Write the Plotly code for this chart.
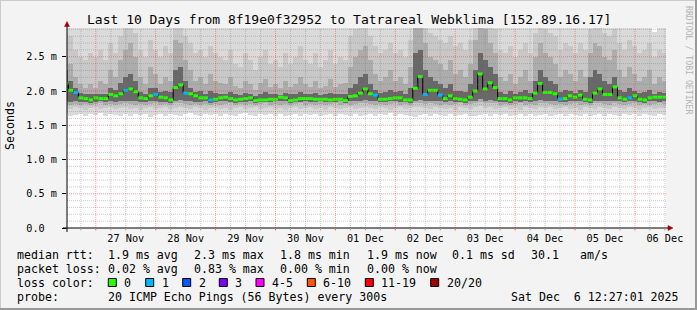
import plotly.graph_objects as go
import pandas as pd

# ---------------- data ----------------
sample_start = "2025-11-26 12:00"      # first consolidated sample
sample_step = "2h"

median_rtt = [
    2.11, 2.01, 1.98, 1.90, 1.89, 1.87, 1.90, 1.89, 1.89, 1.95,
    1.93, 1.96, 2.01, 2.03, 1.99, 1.90, 1.89, 1.93, 1.95, 1.91,
    1.90, 1.87, 2.05, 2.09, 1.97, 1.96, 1.93, 1.90, 1.90, 1.87,
    1.88, 1.90, 1.91, 1.89, 1.87, 1.88, 1.89, 1.90, 1.86, 1.87,
    1.87, 1.88, 1.88, 1.91, 1.90, 1.86, 1.87, 1.89, 1.89, 1.89,
    1.88, 1.88, 1.88, 1.87, 1.88, 1.88, 1.86, 1.92, 1.93, 1.97,
    2.03, 1.96, 1.94, 1.88, 1.88, 1.89, 1.90, 1.90, 1.87, 1.87,
    2.04, 2.21, 1.95, 2.01, 2.01, 1.94, 1.89, 1.93, 1.89, 1.88,
    1.87, 1.91, 2.00, 2.25, 2.03, 2.12, 2.05, 1.89, 1.89, 1.87,
    1.90, 1.90, 1.90, 1.89, 1.97, 2.11, 1.98, 1.98, 1.96, 1.88,
    1.89, 1.93, 1.91, 1.94, 1.88, 1.87, 1.97, 2.03, 1.95, 1.95,
    2.06, 1.90, 1.88, 1.90, 1.93, 1.88, 1.87, 1.90, 1.91, 1.91,
    1.91]

# samples (index) where 1 of 20 pings was lost, all others 0
loss_one_samples = [2, 12, 18, 24, 29, 62, 72, 75, 99, 113]

ping_max = [
    3.30, 3.25, 3.10, 3.05, 3.00, 3.15, 3.05, 3.10, 3.00, 3.20,
    3.05, 3.25, 3.40, 3.45, 3.30, 3.10, 3.00, 3.15, 3.05, 3.00,
    3.10, 3.05, 3.45, 3.50, 3.25, 3.15, 3.00, 3.10, 3.00, 3.05,
    3.00, 3.00, 3.10, 2.98, 3.00, 3.05, 3.00, 2.97, 3.00, 3.10,
    3.00, 2.98, 3.00, 3.05, 3.00, 3.00, 3.10, 3.00, 2.98, 3.05,
    3.00, 2.98, 3.05, 3.00, 3.00, 3.00, 2.98, 3.20, 3.35, 3.40,
    3.45, 3.20, 3.10, 3.00, 3.05, 3.10, 3.00, 3.05, 3.00, 3.15,
    3.60, 3.70, 3.40, 3.30, 3.20, 3.15, 3.05, 3.20, 3.05, 3.10,
    3.00, 3.15, 3.45, 3.75, 3.50, 3.40, 3.30, 3.05, 3.00, 3.10,
    3.00, 3.05, 3.10, 3.00, 3.30, 3.45, 3.35, 3.25, 3.20, 3.00,
    3.10, 3.05, 3.00, 3.10, 3.05, 3.35, 3.45, 3.40, 3.25, 3.15,
    3.30, 3.10, 3.00, 3.15, 3.05, 3.00, 3.00, 3.10, 2.86, 3.00,
    3.00]

ping_p90 = [
    2.85, 2.80, 2.60, 2.50, 2.45, 2.55, 2.50,
    2.60, 2.45, 2.70, 2.55,
    2.80, 2.92, 2.95, 2.85,
    2.60, 2.50, 2.75, 2.60, 2.50, 2.65, 2.55,
    2.95, 2.95, 2.80,
    2.70, 2.55, 2.60, 2.50, 2.65, 2.55,
    2.50, 2.45, 2.60, 2.40, 2.35, 2.55, 2.45, 2.30, 2.50, 2.60, 2.40, 2.45, 2.35,
    2.55, 2.40, 2.50, 2.65, 2.45, 2.40, 2.55, 2.35, 2.45, 2.60, 2.40, 2.50, 2.45,
    2.80, 2.90, 2.95, 2.95, 2.80,
    2.65, 2.55, 2.60, 2.70, 2.55, 2.60, 2.50, 2.75,
    3.00, 3.00, 2.95,
    2.85, 2.80, 2.75, 2.70, 2.80, 2.65, 2.70, 2.60, 2.75,
    2.95, 3.00, 3.00, 2.95, 2.90,
    2.60, 2.55, 2.65, 2.50, 2.60, 2.70, 2.55,
    2.85, 2.95, 2.90, 2.85, 2.80,
    2.60, 2.70, 2.65, 2.55, 2.70, 2.60,
    2.90, 2.95, 2.95, 2.85, 2.80, 2.90,
    2.70, 2.60, 2.75, 2.65, 2.55, 2.60, 2.70, 2.50, 2.60, 2.55]

ping_p75 = [
    2.50, 2.40, 2.20, 2.10, 2.05, 2.10, 2.05,
    2.15, 2.10, 2.30, 2.20,
    2.45, 2.60, 2.70, 2.50,
    2.20, 2.10, 2.35, 2.25, 2.10, 2.20, 2.15,
    2.75, 2.70, 2.45,
    2.30, 2.15, 2.20, 2.10, 2.25, 2.15,
    2.12, 2.10, 2.20, 2.08, 2.05, 2.15, 2.10, 2.02, 2.12, 2.18, 2.06, 2.10, 2.04,
    2.14, 2.06, 2.10, 2.20, 2.10, 2.06, 2.14, 2.04, 2.08, 2.18, 2.06, 2.10, 2.12,
    2.35, 2.50, 2.60, 2.65, 2.45,
    2.25, 2.15, 2.20, 2.30, 2.15, 2.20, 2.10, 2.35,
    2.95, 2.95, 2.70,
    2.50, 2.45, 2.40, 2.30, 2.45, 2.25, 2.30, 2.20, 2.40,
    2.75, 2.95, 2.90, 2.70, 2.55,
    2.20, 2.15, 2.25, 2.10, 2.20, 2.30, 2.15,
    2.50, 2.70, 2.55, 2.50, 2.40,
    2.20, 2.30, 2.25, 2.15, 2.30, 2.20,
    2.55, 2.70, 2.65, 2.50, 2.45, 2.60,
    2.30, 2.20, 2.35, 2.25, 2.15, 2.20, 2.30, 2.10, 2.20, 2.15]

ping_p60 = [
    2.30, 2.15, 2.05, 1.97, 1.95, 1.95, 1.96,
    1.96, 1.95, 2.05, 2.02,
    2.12, 2.20, 2.25, 2.15,
    1.98, 1.96, 2.05, 2.05, 1.98, 2.00, 1.98,
    2.30, 2.35, 2.15,
    2.05, 1.98, 2.00, 1.96, 2.00, 1.97,
    1.96, 1.96, 1.98, 1.95, 1.94, 1.97, 1.96, 1.93, 1.96, 1.98, 1.95, 1.96, 1.94,
    1.97, 1.95, 1.95, 1.98, 1.96, 1.95, 1.97, 1.94, 1.95, 1.97, 1.95, 1.96, 1.95,
    2.05, 2.10, 2.20, 2.25, 2.10,
    2.02, 1.97, 1.98, 2.02, 1.98, 2.00, 1.96, 2.05,
    2.55, 2.60, 2.30,
    2.20, 2.15, 2.10, 2.05, 2.10, 2.00, 2.00, 1.98, 2.10,
    2.30, 2.55, 2.45, 2.35, 2.25,
    1.98, 1.96, 2.00, 1.96, 1.98, 2.02, 1.97,
    2.15, 2.30, 2.20, 2.15, 2.10,
    1.98, 2.02, 2.00, 1.97, 2.02, 1.98,
    2.20, 2.30, 2.25, 2.15, 2.10, 2.20,
    2.02, 1.98, 2.05, 2.00, 1.97, 1.98, 2.02, 1.96, 1.98, 1.97]

ping_p40 = [
    1.85, 1.84, 1.85, 1.84, 1.84, 1.83, 1.84, 1.85, 1.84, 1.85,
    1.84, 1.85, 1.86, 1.86, 1.85, 1.84, 1.84, 1.85, 1.85, 1.84,
    1.84, 1.83, 1.86, 1.87, 1.85, 1.85, 1.84, 1.84, 1.85, 1.83,
    1.84, 1.85, 1.85, 1.84, 1.83, 1.84, 1.84, 1.85, 1.83, 1.84,
    1.84, 1.84, 1.85, 1.85, 1.85, 1.83, 1.84, 1.84, 1.85, 1.84,
    1.84, 1.85, 1.84, 1.84, 1.84, 1.85, 1.83, 1.85, 1.85, 1.86,
    1.87, 1.85, 1.85, 1.84, 1.84, 1.85, 1.85, 1.84, 1.84, 1.83,
    1.86, 1.87, 1.85, 1.86, 1.86, 1.85, 1.84, 1.85, 1.84, 1.84,
    1.83, 1.85, 1.86, 1.88, 1.86, 1.87, 1.86, 1.84, 1.84, 1.83,
    1.85, 1.84, 1.85, 1.84, 1.85, 1.87, 1.86, 1.85, 1.85, 1.84,
    1.84, 1.85, 1.85, 1.85, 1.84, 1.83, 1.85, 1.86, 1.85, 1.85,
    1.86, 1.85, 1.84, 1.85, 1.85, 1.84, 1.83, 1.85, 1.85, 1.84,
    1.85]

ping_p25 = [
    1.81, 1.80, 1.81, 1.80, 1.81, 1.80, 1.81, 1.82, 1.80, 1.81,
    1.80, 1.81, 1.82, 1.81, 1.80, 1.81, 1.80, 1.81, 1.82, 1.80,
    1.81, 1.80, 1.82, 1.83, 1.81, 1.80, 1.81, 1.80, 1.81, 1.80,
    1.81, 1.80, 1.81, 1.82, 1.80, 1.81, 1.80, 1.81, 1.80, 1.81,
    1.82, 1.80, 1.81, 1.80, 1.81, 1.80, 1.81, 1.82, 1.80, 1.81,
    1.80, 1.81, 1.80, 1.81, 1.82, 1.80, 1.81, 1.80, 1.81, 1.82,
    1.83, 1.81, 1.80, 1.81, 1.80, 1.81, 1.82, 1.80, 1.81, 1.80,
    1.82, 1.83, 1.81, 1.82, 1.81, 1.80, 1.81, 1.80, 1.81, 1.82,
    1.80, 1.81, 1.82, 1.84, 1.82, 1.83, 1.82, 1.80, 1.81, 1.80,
    1.81, 1.82, 1.80, 1.81, 1.80, 1.83, 1.82, 1.81, 1.80, 1.81,
    1.80, 1.81, 1.82, 1.80, 1.81, 1.80, 1.82, 1.83, 1.81, 1.80,
    1.82, 1.81, 1.80, 1.81, 1.82, 1.80, 1.81, 1.80, 1.81, 1.82,
    1.81]

ping_p10 = [
    1.75, 1.74, 1.76, 1.75, 1.73, 1.75, 1.76, 1.74, 1.75, 1.77,
    1.74, 1.75, 1.76, 1.74, 1.75, 1.73, 1.75, 1.76, 1.74, 1.75,
    1.76, 1.74, 1.75, 1.77, 1.75, 1.74, 1.76, 1.75, 1.73, 1.75,
    1.76, 1.74, 1.75, 1.73, 1.75, 1.76, 1.74, 1.75, 1.77, 1.74,
    1.75, 1.76, 1.74, 1.75, 1.73, 1.75, 1.76, 1.74, 1.75, 1.76,
    1.74, 1.75, 1.73, 1.76, 1.75, 1.74, 1.75, 1.76, 1.74, 1.75,
    1.77, 1.75, 1.74, 1.76, 1.75, 1.73, 1.75, 1.76, 1.74, 1.75,
    1.76, 1.77, 1.75, 1.74, 1.76, 1.75, 1.74, 1.75, 1.73, 1.76,
    1.75, 1.74, 1.76, 1.78, 1.75, 1.76, 1.74, 1.75, 1.76, 1.74,
    1.75, 1.73, 1.76, 1.75, 1.74, 1.77, 1.75, 1.76, 1.74, 1.75,
    1.76, 1.74, 1.75, 1.73, 1.76, 1.75, 1.74, 1.77, 1.75, 1.74,
    1.76, 1.75, 1.74, 1.76, 1.75, 1.73, 1.75, 1.76, 1.74, 1.75,
    1.75]

ping_min = [
    1.66, 1.64, 1.65, 1.67, 1.63, 1.66, 1.65, 1.68, 1.64, 1.66,
    1.65, 1.63, 1.66, 1.64, 1.67, 1.65, 1.66, 1.62, 1.65, 1.67,
    1.64, 1.66, 1.65, 1.63, 1.66, 1.68, 1.65, 1.64, 1.66, 1.65,
    1.67, 1.64, 1.66, 1.65, 1.63, 1.66, 1.68, 1.65, 1.64, 1.66,
    1.65, 1.67, 1.64, 1.66, 1.63, 1.65, 1.66, 1.64, 1.67, 1.65,
    1.66, 1.63, 1.65, 1.67, 1.64, 1.66, 1.65, 1.64, 1.66, 1.63,
    1.65, 1.67, 1.64, 1.66, 1.65, 1.68, 1.64, 1.66, 1.65, 1.63,
    1.62, 1.65, 1.66, 1.64, 1.67, 1.65, 1.63, 1.66, 1.64, 1.65,
    1.67, 1.64, 1.63, 1.65, 1.66, 1.64, 1.67, 1.65, 1.66, 1.64,
    1.65, 1.67, 1.64, 1.66, 1.63, 1.65, 1.66, 1.64, 1.65, 1.67,
    1.64, 1.66, 1.65, 1.63, 1.66, 1.64, 1.65, 1.67, 1.64, 1.66,
    1.65, 1.64, 1.66, 1.65, 1.67, 1.64, 1.66, 1.65, 1.64, 1.66,
    1.65]

y_tick_vals = [0.0, 0.5, 1.0, 1.5, 2.0, 2.5]
y_tick_text = ["0.0\u00a0\u00a0", "0.5 m", "1.0 m", "1.5 m", "2.0 m", "2.5 m"]
day_dates = ["2025-11-27", "2025-11-28", "2025-11-29", "2025-11-30", "2025-12-01",
             "2025-12-02", "2025-12-03", "2025-12-04", "2025-12-05", "2025-12-06"]
day_labels = ["27 Nov", "28 Nov", "29 Nov", "30 Nov", "01 Dec",
              "02 Dec", "03 Dec", "04 Dec", "05 Dec", "06 Dec"]

loss_labels = ["0", "1", "2", "3", "4-5", "6-10", "11-19", "20/20"]
loss_colors = ["#26ff00", "#00b8ff", "#0059ff", "#7e00ff", "#ff00ff", "#ff5500", "#ff0000", "#a10000"]

title = "Last 10 Days from 8f19e0f32952 to Tatrareal Webklima [152.89.16.17]"
rtt_stats = ["1.9 ms avg", "2.3 ms max", "1.8 ms min", "1.9 ms now", "0.1 ms sd", "30.1", "am/s"]
loss_stats = ["0.02 % avg", "0.83 % max", "0.00 % min", "0.00 % now"]
probe_text = "20 ICMP Echo Pings (56 Bytes) every 300s"
stamp_text = "Sat Dec\u00a0\u00a06 12:27:01 2025"

range_start = "2025-11-26 12:27:01"
range_end = "2025-12-06 12:27:01"

# ---------------- geometry / style ----------------
W, H = 697, 310
PL, PR, PT, PB = 67, 666, 28, 228
YMAX = 2.92
MONO = "DejaVu Sans Mono"


def xp(px):
    return (px - PL) / (PR - PL)


def yp(py):
    return (PB - py) / (PB - PT)


times = pd.date_range(sample_start, periods=len(median_rtt), freq=sample_step)
half = pd.Timedelta(sample_step) / 2
bar_w = pd.Timedelta(sample_step).total_seconds() * 1000

fig = go.Figure()

bands = [
    (ping_min, ping_max, "#dadada"),
    (ping_p10, ping_p90, "#c8c8c8"),
    (ping_p25, ping_p75, "#acacac"),
    (ping_p40, ping_p60, "#686868"),
]
for lo, hi, col in bands:
    fig.add_trace(go.Bar(
        x=times, base=lo, y=[h - l for l, h in zip(lo, hi)], width=bar_w,
        marker=dict(color=col, line=dict(width=0)), hoverinfo="skip", showlegend=False))

# median: thin black connector then loss-coloured segments
fig.add_trace(go.Scatter(x=times, y=median_rtt, mode="lines", line_shape="hvh",
                         line=dict(color="#000000", width=1), hoverinfo="skip", showlegend=False))
loss = [1 if i in loss_one_samples else 0 for i in range(len(median_rtt))]
for lv in sorted(set(loss)):
    xs, ys = [], []
    for t, m, l in zip(times, median_rtt, loss):
        if l == lv:
            xs += [t - half, t + half, None]
            ys += [m, m, None]
    fig.add_trace(go.Scatter(x=xs, y=ys, mode="lines", line=dict(color=loss_colors[lv], width=3),
                             hoverinfo="skip", showlegend=False))

shapes = []
# horizontal grid
for i in range(1, 30):
    v = i / 10
    if v > YMAX:
        break
    major = (i % 5 == 0)
    shapes.append(dict(type="line", xref="paper", yref="y", x0=0, x1=1, y0=v, y1=v, layer="above",
                       line=dict(color="rgba(255,0,0,0.38)" if major else "rgba(120,120,120,0.38)",
                                 width=1, dash="1px,1px")))
# vertical grid
for t in pd.date_range("2025-11-26 18:00", range_end, freq="6h"):
    major = (t.hour == 0)
    shapes.append(dict(type="line", xref="x", yref="paper", x0=t, x1=t, y0=0, y1=1, layer="above",
                       line=dict(color="rgba(255,0,0,0.38)" if major else "rgba(120,120,120,0.38)",
                                 width=1, dash="1px,1px")))
# axes
shapes.append(dict(type="line", xref="paper", yref="paper", x0=xp(PL - 4), x1=xp(670), y0=0, y1=0,
                   layer="above", line=dict(color="#000", width=1)))
shapes.append(dict(type="line", xref="paper", yref="paper", x0=0, x1=0, y0=yp(PB + 4), y1=yp(24),
                   layer="above", line=dict(color="#000", width=1)))
arrow_col = "#a00000"
shapes.append(dict(type="path", xref="paper", yref="paper", layer="above",
                   path=f"M {xp(668)},{yp(225.5)} L {xp(673)},{yp(228)} L {xp(668)},{yp(230.5)} Z",
                   fillcolor=arrow_col, line=dict(color=arrow_col, width=0.5)))
shapes.append(dict(type="path", xref="paper", yref="paper", layer="above",
                   path=f"M {xp(64.5)},{yp(26.5)} L {xp(67)},{yp(21.5)} L {xp(69.5)},{yp(26.5)} Z",
                   fillcolor=arrow_col, line=dict(color=arrow_col, width=0.5)))
# x axis small ticks (6h)
for t in pd.date_range("2025-11-26 18:00", range_end, freq="6h"):
    shapes.append(dict(type="line", xref="x", yref="paper", x0=t, x1=t, y0=yp(228), y1=yp(230.5),
                       layer="above", line=dict(color="#ff6060" if t.hour == 0 else "#a0a0a0", width=1)))

# loss colour boxes
box_left = [108.3, 145.7, 182.7, 219.3, 256.0, 307.3, 365.3, 430.7]
for bx, col in zip(box_left, loss_colors):
    shapes.append(dict(type="rect", xref="paper", yref="paper", x0=xp(bx), x1=xp(bx + 8),
                       y0=yp(286.5), y1=yp(278.5), fillcolor=col, line=dict(color="#000", width=1)))

# canvas border (3-D shade)
shapes.append(dict(type="line", xref="paper", yref="paper", x0=xp(0), x1=xp(W), y0=yp(0.5), y1=yp(0.5),
                   line=dict(color="#cbcbcb", width=1)))
shapes.append(dict(type="line", xref="paper", yref="paper", x0=xp(0.5), x1=xp(0.5), y0=yp(0), y1=yp(H),
                   line=dict(color="#cbcbcb", width=1)))
shapes.append(dict(type="line", xref="paper", yref="paper", x0=xp(0), x1=xp(W), y0=yp(H - 1), y1=yp(H - 1),
                   line=dict(color="#999999", width=2)))
shapes.append(dict(type="line", xref="paper", yref="paper", x0=xp(W - 1), x1=xp(W - 1), y0=yp(0), y1=yp(H),
                   line=dict(color="#999999", width=2)))

ann = []


def text(px, py, s, size=11.6, anchor="left", color="#000000", angle=0):
    ann.append(dict(xref="paper", yref="paper", x=xp(px), y=yp(py), text=s, showarrow=False,
                    xanchor=anchor, yanchor="middle", textangle=angle, borderpad=0,
                    font=dict(family=MONO, size=size, color=color)))


text(348.5, 19.5, title, size=13, anchor="center")
text(10, 126, "Seconds", size=11.6, anchor="center", angle=-90)
text(689, 60, "RRDTOOL / TOBI OETIKER", size=8.2, anchor="center", color="#b4b4b4", angle=90)

row_y = [254.5, 268.5, 282.5, 296.5]
text(16, row_y[0], "median rtt:")
for s, px in zip(rtt_stats, [106.7, 193.3, 279.3, 366, 451, 530, 579.3]):
    text(px, row_y[0], s)
text(16, row_y[1], "packet loss:")
for s, px in zip(loss_stats, [106.7, 193.3, 279.3, 366]):
    text(px, row_y[1], s)
text(16, row_y[2], "loss color:")
for bx, lab in zip(box_left, loss_labels):
    text(bx + 15, row_y[2], lab)
text(16, row_y[3], "probe:")
text(106.7, row_y[3], probe_text)
text(680, row_y[3], stamp_text, anchor="right")

fig.update_layout(
    width=W, height=H, autosize=False,
    margin=dict(l=PL, r=W - PR, t=PT, b=H - PB, pad=0),
    paper_bgcolor="#f3f3f3", plot_bgcolor="#ffffff",
    barmode="overlay", bargap=0, showlegend=False,
    font=dict(family=MONO, size=10, color="#000"),
    shapes=shapes, annotations=ann,
    xaxis=dict(type="date", range=[range_start, range_end], showgrid=False, zeroline=False,
               showline=False, automargin=False, ticks="",
               tickvals=[pd.Timestamp(d) + pd.Timedelta(hours=12) for d in day_dates],
               ticktext=day_labels, tickfont=dict(family=MONO, size=10.2), ticklabelstandoff=3),
    yaxis=dict(range=[0, YMAX], showgrid=False, zeroline=False, showline=False, automargin=False,
               tickvals=y_tick_vals, ticktext=y_tick_text, ticks="outside", ticklen=4,
               tickcolor="#000", tickwidth=1, tickfont=dict(family=MONO, size=10.2),
               ticklabelstandoff=3),
)

fig.write_html("out.html", config={"displayModeBar": False})
